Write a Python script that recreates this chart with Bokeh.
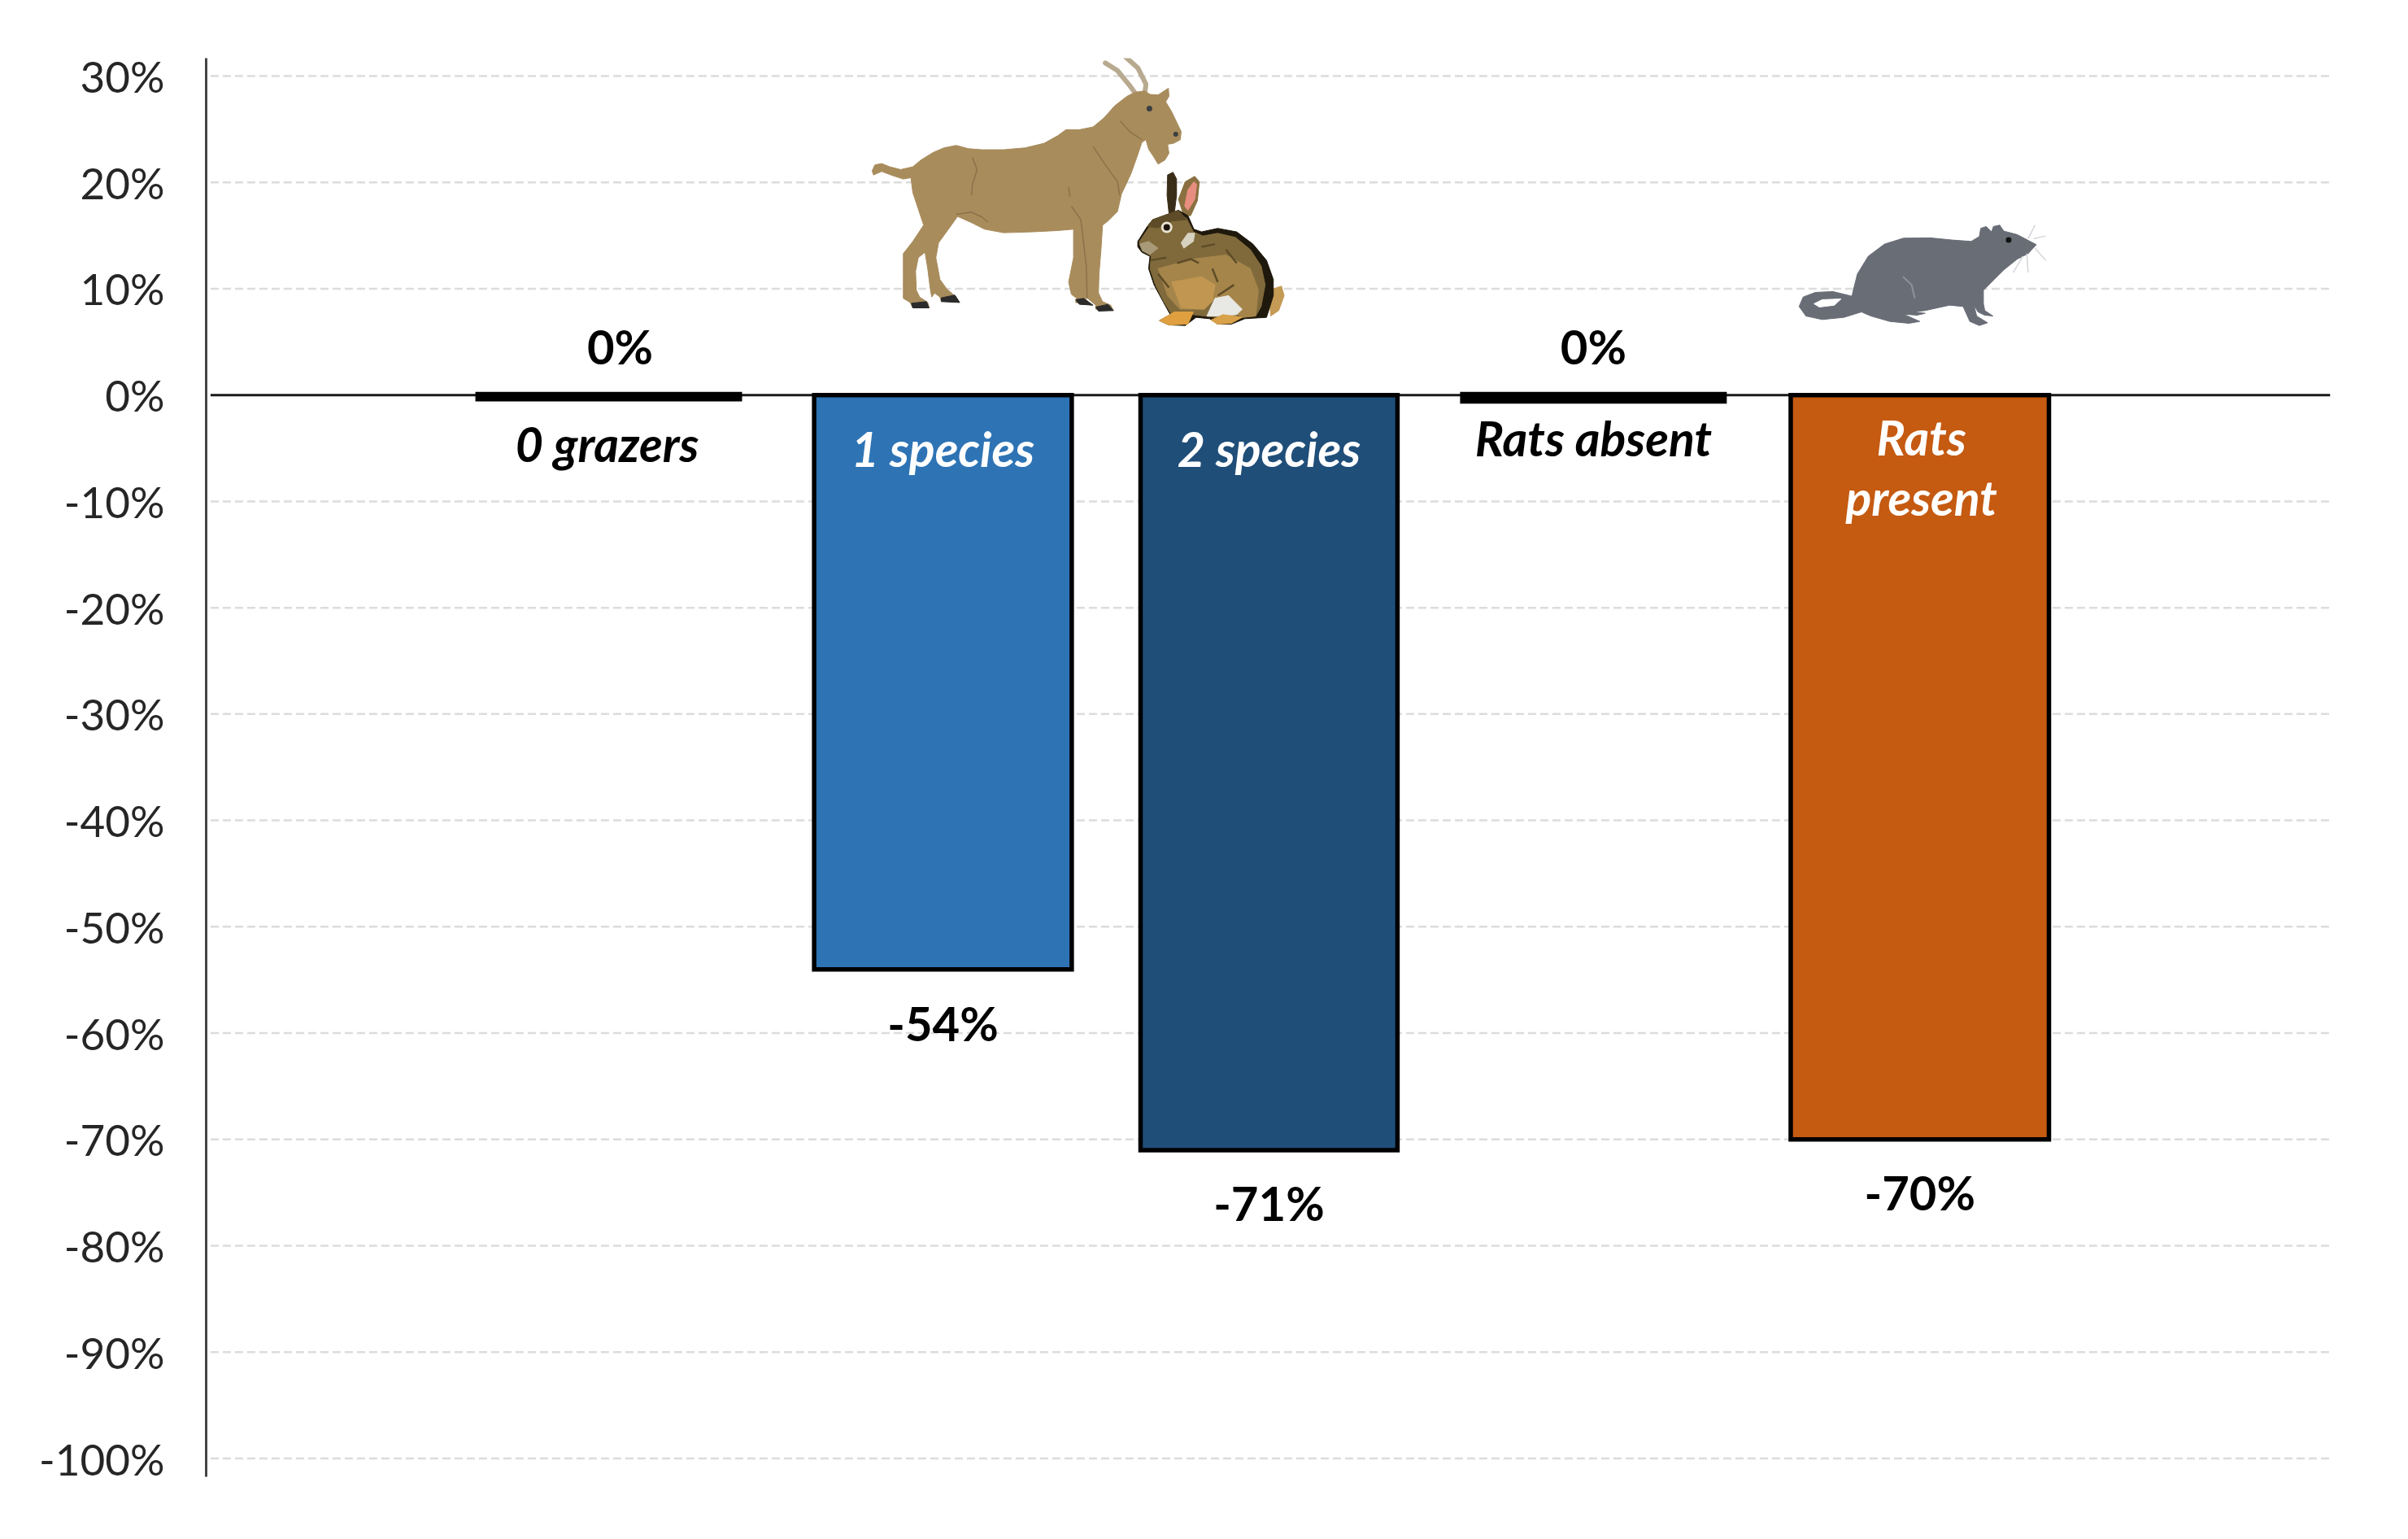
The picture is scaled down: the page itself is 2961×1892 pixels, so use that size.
from bokeh.core.properties import value
from bokeh.embed import file_html
from bokeh.models import FixedTicker, PrintfTickFormatter, Range1d
from bokeh.plotting import figure
from bokeh.resources import INLINE

# chart values
categories = ["0 grazers", "1 species", "2 species", "Rats absent", "Rats\npresent"]
values = [0, -54, -71, 0, -70]
y_ticks = [30, 20, 10, 0, -10, -20, -30, -40, -50, -60, -70, -80, -90, -100]

# how the bars are laid out in the picture
slots = [0, 1.025, 2.025, 3.02, 4.021]
bar_widths = [0.798, 0.79, 0.788, 0.798, 0.792]
stub_depth = [0.3, 0, 0, 0.5, 0]
bar_lines = [8, 5.5, 5.5, 8, 5.5]
bar_colors = ["#000000", "#2E74B5", "#1F4E79", "#000000", "#C55A11"]
name_colors = ["#000000", "#FFFFFF", "#FFFFFF", "#000000", "#FFFFFF"]
name_offsets = [60, 66, 66, 53, 89]
value_offsets = [-60, 66, 65, -60, 65]
name_nudge = [-2, 0, 0, 0, 2]
value_nudge = [14, 0, 0, 0, 0]

# picture pixels per unit, used to place the drawings
PX_X, PX_Y = 401.0, 13.07
X0, Y0 = 747.7, 485.5


def pic(points, ox, oy, scale=3.0):
    xs = [(ox + a / scale - X0) / PX_X for a, b in points]
    ys = [(Y0 - (oy + b / scale)) / PX_Y for a, b in points]
    return xs, ys


p = figure(width=2945, height=1870, output_backend="svg", toolbar_location=None,
           x_range=Range1d(-1.2347, 5.280), y_range=Range1d(-101.72, 31.68),
           x_axis_location=None, min_border_left=253, min_border_right=80,
           min_border_top=71, min_border_bottom=55)
p.outline_line_color = None
p.xgrid.visible = False
p.ygrid.visible = False
p.background_fill_color = "#FFFFFF"

ax = p.yaxis[0]
ax.ticker = FixedTicker(ticks=y_ticks)
ax.formatter = PrintfTickFormatter(format="%d%%")
ax.major_tick_line_color = None
ax.minor_tick_line_color = None
ax.major_tick_in = 0
ax.major_tick_out = 0
ax.axis_line_color = "#444444"
ax.axis_line_width = 3
ax.major_label_standoff = 51
ax.major_label_text_font = "Lato"
ax.major_label_text_font_size = "53px"
ax.major_label_text_color = "#262626"

# grid lines start a little right of the axis
left = (258 - X0) / PX_X
right = (2865 - X0) / PX_X
grid = [t for t in y_ticks if t != 0]
p.segment([left] * len(grid), grid, [right] * len(grid), grid, line_color="#DCDCDC",
          line_width=2.5, line_dash="10 5")
p.segment([left], [0], [right], [0], line_color="#1A1A1A", line_width=3)

ends = [v - d for v, d in zip(values, stub_depth)]
p.vbar(x=slots, width=bar_widths, top=[0] * 5, bottom=ends, fill_color=bar_colors,
       line_color="#000000", line_width=bar_lines, line_join="miter")

# goat
goat_o = (1060, 50)
goat_body = [(35, 480), (45, 458), (70, 453), (100, 465), (140, 475), (185, 465), (215, 440), (260, 412),
             (300, 395), (345, 386), (390, 398), (440, 402), (520, 402), (600, 395), (670, 378), (720, 350),
             (750, 328), (800, 328), (850, 318), (890, 285), (930, 240), (975, 205), (1005, 190), (1040, 185),
             (1060, 198), (1090, 200), (1128, 175), (1130, 205), (1118, 225), (1140, 262), (1175, 335),
             (1172, 365), (1148, 378), (1125, 382), (1130, 415), (1115, 440), (1090, 455), (1075, 430),
             (1055, 400), (1045, 365), (1030, 375), (1015, 420), (990, 490), (955, 565), (940, 630),
             (905, 665), (885, 680), (880, 760), (872, 860), (870, 930), (885, 962), (915, 975), (925, 995),
             (860, 990), (860, 975), (830, 950), (820, 950), (845, 975), (785, 965), (790, 950), (770, 935),
             (760, 890), (778, 800), (778, 695), (720, 700), (620, 705), (520, 708), (450, 695), (400, 670),
             (350, 648), (320, 690), (280, 745), (270, 800), (285, 880), (310, 915), (345, 945), (355, 965),
             (290, 960), (285, 945), (265, 930), (255, 945), (250, 920), (240, 840), (230, 780), (205, 800),
             (195, 850), (198, 920), (210, 945), (240, 965), (245, 985), (185, 985), (175, 965), (150, 950),
             (150, 870), (150, 785), (185, 740), (225, 680), (205, 620), (185, 560), (178, 505), (150, 510),
             (110, 497), (70, 482), (40, 495)]
goat_hooves = [[(180, 968), (235, 962), (245, 985), (185, 985)], [(290, 948), (340, 938), (358, 965), (290, 962)],
               [(785, 955), (815, 950), (850, 975), (800, 972)], [(860, 982), (905, 972), (925, 995), (870, 997)]]
goat_horns = [[(895, 82), (940, 110), (985, 165), (1010, 200)],
              [(968, 58), (1015, 100), (1045, 160), (1040, 205), (1015, 240)]]
goat_folds = [[(405, 430), (422, 475), (405, 530), (402, 570)], [(850, 390), (890, 450), (940, 520), (948, 570)],
              [(950, 295), (985, 335), (1030, 365)], [(345, 640), (400, 632), (440, 650), (462, 668)],
              [(770, 610), (805, 660), (825, 830), (828, 950)], [(760, 540), (765, 575)]]
for h in goat_horns:
    xs, ys = pic(h, *goat_o)
    p.line(xs, ys, line_color="#B8AA90", line_width=6, line_cap="round")
xs, ys = pic(goat_body, *goat_o)
p.patch(xs, ys, fill_color="#A88C5C", line_color="#A88C5C", line_width=1, line_join="round")
for h in goat_hooves:
    xs, ys = pic(h, *goat_o)
    p.patch(xs, ys, fill_color="#2B2B2B", line_color="#2B2B2B", line_width=1)
for f in goat_folds:
    xs, ys = pic(f, *goat_o)
    p.line(xs, ys, line_color="#8B7249", line_width=1.5)
xs, ys = pic([(1058, 250), (1155, 345)], *goat_o)
p.scatter(xs, ys, size=[7, 6], fill_color="#3A3F40", line_color=None)

# rabbit
rab_o = (1380, 190)
rab_layers = [
    ("#3A2D18", [(165, 75), (185, 65), (198, 90), (198, 150), (190, 215), (170, 215), (163, 150)]),
    ("#8A7040", [(205, 165), (230, 100), (265, 80), (282, 100), (275, 170), (250, 225), (225, 225)]),
    ("#E88E80", [(228, 190), (240, 130), (262, 100), (272, 110), (265, 165), (240, 205)]),
    ("#C49A55", [(540, 500), (585, 485), (595, 520), (575, 575), (545, 595)]),
    ("#1F180C", [(55, 320), (90, 265), (110, 240), (165, 220), (205, 205), (240, 225), (262, 275), (290, 285),
                 (350, 272), (420, 285), (480, 330), (530, 390), (555, 460), (555, 520), (530, 600), (450, 605),
                 (400, 625), (350, 625), (320, 605), (270, 600), (230, 630), (170, 628), (135, 612), (175, 590),
                 (150, 545), (115, 480), (95, 420), (100, 375), (70, 360), (55, 340)]),
    ("#806A3C", [(60, 322), (95, 270), (120, 250), (170, 232), (200, 215), (235, 235), (260, 285), (295, 300),
                 (350, 290), (415, 305), (470, 350), (510, 410), (525, 480), (510, 560), (490, 595), (440, 600),
                 (340, 600), (260, 590), (180, 590), (150, 540), (120, 480), (100, 420), (105, 375), (75, 355)]),
    ("#A5854A", [(130, 420), (260, 385), (380, 370), (470, 420), (500, 500), (490, 595), (440, 600), (340, 530),
                 (300, 570), (210, 570), (165, 520)]),
    ("#C09650", [(180, 470), (290, 450), (340, 480), (330, 540), (300, 570), (215, 565)]),
    ("#E8E8E4", [(310, 595), (340, 530), (390, 520), (440, 570), (420, 590), (350, 595)]),
    ("#E0A040", [(135, 612), (190, 580), (260, 580), (240, 625), (170, 628)]),
    ("#D9A24A", [(325, 610), (370, 590), (440, 600), (400, 622), (350, 625)]),
    ("#D8D2C0", [(215, 325), (240, 290), (265, 290), (260, 320), (225, 345)]),
    ("#5E4C28", [(90, 265), (110, 240), (165, 220), (205, 205), (235, 240), (180, 245), (130, 270)]),
    ("#A89A78", [(62, 330), (95, 320), (130, 345), (100, 368), (72, 355)]),
]
rab_marks = [[(200, 400), (250, 385), (280, 400)], [(330, 420), (350, 470)], [(380, 350), (420, 400)],
             [(410, 480), (350, 520)], [(130, 440), (170, 490)], [(290, 340), (340, 330)], [(100, 390), (160, 380)]]
for color, pts in rab_layers:
    xs, ys = pic(pts, *rab_o)
    p.patch(xs, ys, fill_color=color, line_color=color, line_width=1, line_join="round")
for m in rab_marks:
    xs, ys = pic(m, *rab_o)
    p.line(xs, ys, line_color="#5E4C28", line_width=2.5)
xs, ys = pic([(162, 268)], *rab_o)
p.scatter(xs, ys, size=14, fill_color="#E8E2D0", line_color=None)
p.scatter(xs, ys, size=8, fill_color="#1C140C", line_color=None)

# rat
rat_o = (2200, 260)
rat_body = [(235, 290), (250, 230), (290, 165), (350, 120), (420, 98), (520, 97), (600, 105), (670, 110), (700, 92),
            (705, 62), (725, 55), (745, 75), (752, 55), (775, 50), (790, 72), (840, 85), (910, 122), (880, 155),
            (840, 175), (790, 215), (745, 260), (715, 290), (715, 340), (720, 365), (750, 385), (720, 382),
            (695, 370), (680, 345), (690, 385), (730, 410), (700, 420), (665, 405), (640, 350), (590, 345),
            (500, 365), (460, 370), (500, 375), (470, 382), (420, 378), (480, 405), (440, 412), (370, 405),
            (300, 385), (265, 370), (200, 390), (120, 398), (60, 385), (35, 350), (50, 315), (95, 298), (160, 295),
            (230, 312)]
rat_hole = [(90, 340), (120, 325), (190, 322), (165, 345), (110, 352)]
rat_hip = [(418, 240), (450, 270), (462, 320)]
rat_whiskers = [[(880, 100), (905, 50)], [(900, 100), (945, 90)], [(905, 135), (945, 180)], [(875, 155), (880, 225)],
                [(860, 165), (825, 225)]]
xs, ys = pic(rat_body, *rat_o)
p.patch(xs, ys, fill_color="#696D76", line_color="#696D76", line_width=1, line_join="round")
xs, ys = pic(rat_hole, *rat_o)
p.patch(xs, ys, fill_color="#FFFFFF", line_color="#FFFFFF", line_width=1)
xs, ys = pic(rat_hip, *rat_o)
p.line(xs, ys, line_color="#90939B", line_width=2)
for w in rat_whiskers:
    xs, ys = pic(w, *rat_o)
    p.line(xs, ys, line_color="#D4D5D8", line_width=1.5)
xs, ys = pic([(808, 105)], *rat_o)
p.scatter(xs, ys, size=7, fill_color="#111111", line_color=None)

# names sit under the zero line, percentages past the bar ends
p.text(x=slots, y=[0] * 5, text=categories, text_font=value("Lato"), text_font_size="59px",
       text_font_style="bold italic", text_color=name_colors, text_align="center", text_baseline="middle",
       text_line_height=1.05, y_offset=name_offsets, x_offset=name_nudge)
p.text(x=slots, y=values, text=[f"{v}%" for v in values], text_font=value("Lato"), text_font_size="58px",
       text_font_style="bold", text_color="#000000", text_align="center", text_baseline="middle",
       y_offset=value_offsets, x_offset=value_nudge)

open("out.html", "w").write(file_html(p, INLINE))
